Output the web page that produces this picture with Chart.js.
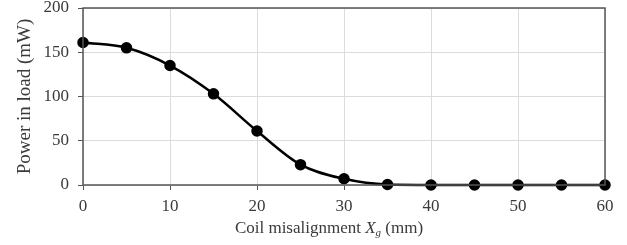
<!DOCTYPE html>
<html>
<head>
<meta charset="utf-8">
<script src="https://cdn.jsdelivr.net/npm/chart.js@4"></script>
<style>
  html, body { margin: 0; padding: 0; background: #fff; }
  #wrap { width: 627px; height: 245px; }
</style>
</head>
<body>
<div id="wrap"><canvas id="chart" width="627" height="245"></canvas></div>
<script>
// misalignment (mm) and measured power in load (mW)
const misalignment = [0, 5, 10, 15, 20, 25, 30, 35, 40, 45, 50, 55, 60];
const powerLoad = [161, 155, 135, 103, 61, 23, 7, 0.5, 0, 0, 0, 0, 0];
const xTicks = [0, 10, 20, 30, 40, 50, 60];
const yTicks = [0, 50, 100, 150, 200];

const FONT = "'Liberation Serif', 'Times New Roman', serif";
const TEXT = "#3a3a3a";

// frame around the plot area
const frame = {
    id: "frame",
    afterDraw(chart) {
        const { ctx, chartArea: a } = chart;
        ctx.save();
        ctx.strokeStyle = "#555";
        ctx.lineWidth = 1.5;
        ctx.strokeRect(a.left, a.top, a.right - a.left, a.bottom - a.top);
        ctx.restore();
    },
};

// x title with italic X and subscript g
const xTitle = {
    id: "xTitle",
    afterDraw(chart) {
        const { ctx, chartArea: a } = chart;
        const parts = [
            { t: "Coil misalignment ", f: "17px " + FONT, dy: 0 },
            { t: "X", f: "italic 17px " + FONT, dy: 0 },
            { t: "g", f: "italic 11px " + FONT, dy: 4 },
            { t: " (mm)", f: "17px " + FONT, dy: 0 },
        ];
        ctx.save();
        ctx.fillStyle = TEXT;
        ctx.textBaseline = "middle";
        let total = 0;
        parts.forEach(p => { ctx.font = p.f; total += ctx.measureText(p.t).width; });
        let x = (a.left + a.right) / 2 - 15 - total / 2;
        const y = 229;
        parts.forEach(p => {
            ctx.font = p.f;
            ctx.fillText(p.t, x, y + p.dy);
            x += ctx.measureText(p.t).width;
        });
        ctx.restore();
    },
};

new Chart(document.getElementById("chart"), {
    type: "line",
    data: {
        datasets: [{
            data: misalignment.map((x, i) => ({ x, y: powerLoad[i] })),
            borderColor: "#000",
            backgroundColor: "#000",
            borderWidth: 2.5,
            pointRadius: 4.5,
            pointBackgroundColor: "#000",
            tension: 0.4,
            cubicInterpolationMode: "monotone",
            clip: false,
        }],
    },
    options: {
        responsive: false,
        animation: false,
        layout: { padding: { top: 8, right: 22, left: 0, bottom: 0 } },
        plugins: { legend: { display: false }, tooltip: { enabled: false } },
        scales: {
            x: {
                type: "linear",
                min: 0,
                max: 60,
                afterBuildTicks: s => { s.ticks = xTicks.map(v => ({ value: v })); },
                afterFit: s => { s.height = 60; s.paddingLeft = 0; s.paddingRight = 0; },
                grid: { color: "#dcdcdc", tickLength: 5, tickColor: "#555" },
                border: { display: false },
                ticks: { font: { family: FONT, size: 17 }, color: TEXT, padding: 6, maxRotation: 0 },
            },
            y: {
                min: 0,
                max: 200,
                afterBuildTicks: s => { s.ticks = yTicks.map(v => ({ value: v })); },
                afterFit: s => { s.width = 83; s.paddingTop = 0; s.paddingBottom = 0; },
                grid: { color: "#dcdcdc", tickLength: 5, tickColor: "#555" },
                border: { display: false },
                ticks: { font: { family: FONT, size: 17 }, color: TEXT, padding: 9 },
                title: {
                    display: true,
                    text: "Power in load (mW)",
                    font: { family: FONT, size: 19 },
                    color: TEXT,
                    padding: { top: 14, bottom: 0 },
                },
            },
        },
    },
    plugins: [frame, xTitle],
});
</script>
</body>
</html>
